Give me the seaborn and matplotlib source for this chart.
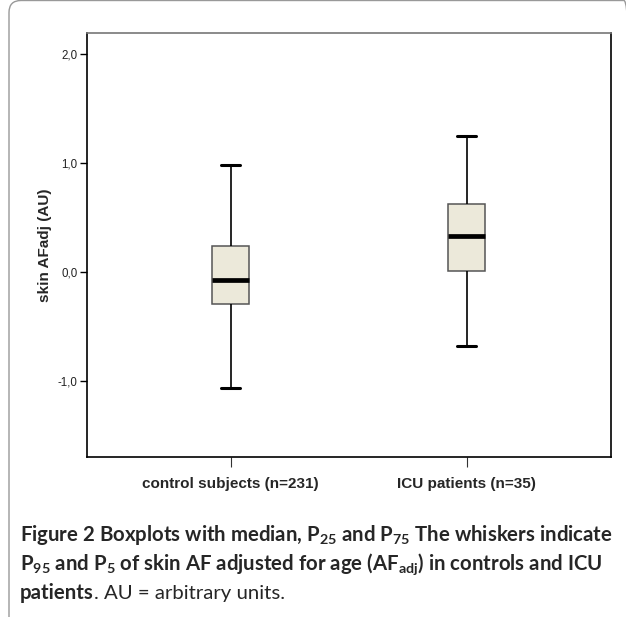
import matplotlib
matplotlib.use("Agg")
import matplotlib.pyplot as plt
import seaborn as sns
import pandas as pd
from matplotlib.patches import FancyBboxPatch

# summary values: P5, P25, median, P75, P95
groups = ["control subjects (n=231)", "ICU patients (n=35)"]
control_stats = [-1.06, -0.29, -0.07, 0.24, 0.98]
icu_stats = [-0.68, 0.015, 0.33, 0.63, 1.25]
yticks = [-1.0, 0.0, 1.0, 2.0]
ytick_labels = ["-1,0", "0,0", "1,0", "2,0"]

# with 5 values, linear percentiles 25/50/75 hit the 2nd/3rd/4th value exactly
df = pd.DataFrame({
    "group": [groups[0]] * 5 + [groups[1]] * 5,
    "value": control_stats + icu_stats,
})

sns.set_style("white")
plt.rcParams["font.family"] = ["Liberation Sans", "DejaVu Sans"]

fig = plt.figure(figsize=(6.26, 6.17), dpi=100)
ax = fig.add_axes([0.139, 0.2588, 0.837, 0.6877])

sns.boxplot(data=df, x="group", y="value", whis=(0, 100), width=0.157,
            color="#ECE9DA", linecolor="#333333", linewidth=1.0, fill=True,
            boxprops=dict(facecolor="#ECE9DA", edgecolor="#555555", linewidth=1.1),
            whiskerprops=dict(color="black", linewidth=1.2),
            capprops=dict(color="black", linewidth=2.2),
            medianprops=dict(color="black", linewidth=3.4, solid_capstyle="butt"),
            ax=ax)

ax.set_xlim(-0.608, 1.612)
ax.set_ylim(-1.697, 2.195)
ax.set_yticks(yticks)
ax.set_yticklabels(ytick_labels, fontsize=8.3, color="#222222")
ax.set_xlabel("")
ax.set_ylabel("skin AFadj (AU)", fontsize=11, fontweight="bold", labelpad=4)
for lab in ax.get_xticklabels():
    lab.set_fontweight("bold")
    lab.set_fontsize(11)
ax.tick_params(axis="y", left=True, length=5, width=1, color="black", pad=2)
ax.tick_params(axis="x", bottom=True, length=7.5, width=0.8, color="#333333", pad=6.5)

for name, sp in ax.spines.items():
    sp.set_visible(True)
    sp.set_linewidth(1.2)
    sp.set_color("black")
ax.spines["top"].set_color("#777777")

# outer rounded frame (pixel coords)
frame = FancyBboxPatch((9, -30), 627, 646.5,
                       boxstyle="round,pad=0,rounding_size=12",
                       transform=None, fill=False, edgecolor="#999999",
                       linewidth=1.0, clip_on=False)
fig.patches.append(frame)

# caption
cap_font = ["Lato", "DejaVu Sans"]
plt.rcParams["mathtext.default"] = "regular"
fs = 14.7
fig.text(20 / 626, 1 - 535 / 617,
         r"Figure 2 Boxplots with median, P$_{25}$ and P$_{75}$ The whiskers indicate",
         fontsize=fs, fontweight="bold", family=cap_font, va="center", ha="left")
fig.text(20 / 626, 1 - 564 / 617,
         r"P$_{95}$ and P$_{5}$ of skin AF adjusted for age (AF$_{adj}$) in controls and ICU",
         fontsize=fs, fontweight="bold", family=cap_font, va="center", ha="left")
t1 = fig.text(20 / 626, 1 - 593 / 617, "patients", fontsize=fs,
              fontweight="bold", family=cap_font, va="center", ha="left")
fig.canvas.draw()
bb = t1.get_window_extent()
fig.text(bb.x1 / 626, 1 - 593 / 617, ". AU = arbitrary units.", fontsize=fs,
         family=cap_font, va="center", ha="left")

fig.savefig("out.png", dpi=100)
